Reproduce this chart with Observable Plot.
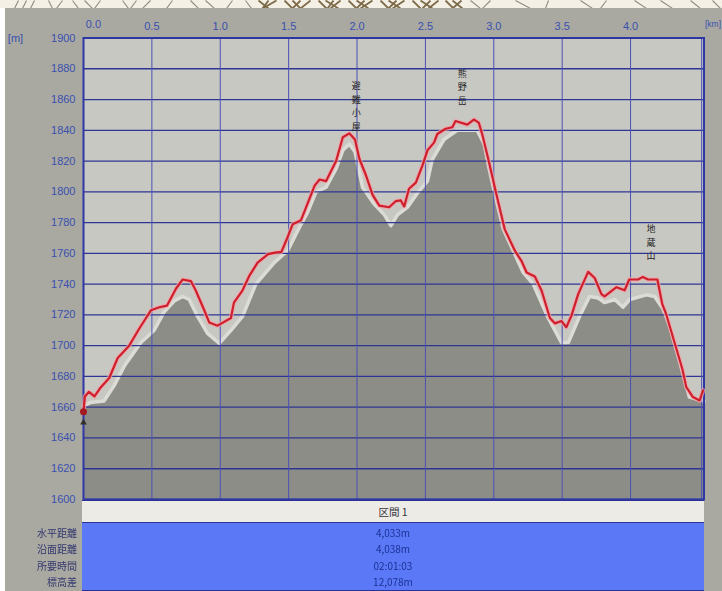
<!DOCTYPE html>
<html><head><meta charset="utf-8">
<script src="https://cdn.jsdelivr.net/npm/d3@7"></script>
<script src="https://cdn.jsdelivr.net/npm/@observablehq/plot@0.6"></script>
<style>
html,body{margin:0;padding:0;background:#fff;overflow:hidden}
#page{position:relative;width:722px;height:591px;font-family:"Noto Sans CJK JP","Liberation Sans",sans-serif;filter:blur(.45px)}
#panel{position:absolute;left:5px;top:8px;width:717px;height:583px;background:#a9a9a2}
#strip,#main{position:absolute;left:0}
#strip{top:0}#main{top:8px}
#strip svg,#main svg{display:block;background:transparent}
#section{position:absolute;left:82px;top:500px;width:622px;height:21px;line-height:21px;background:#ecebe6;border-top:1.5px solid #2c3290;border-bottom:1.5px solid #2c3290;text-align:center;font-size:10.5px;color:#33333a}
#stats{position:absolute;left:82px;top:523px;width:622px;height:67px;background:#5b78f6;border-bottom:1px solid #2c3290}
.val,.lab{position:absolute;font-size:10px;line-height:16px;height:16px;white-space:nowrap}
.val{left:82px;width:622px;text-align:center;color:#1c3296}
.lab{left:0;width:77px;text-align:right;color:#34386e}
</style></head>
<body>
<div id="page"><div id="panel"></div><div id="strip"></div><div id="main"></div>
<div id="section"></div><div id="stats"></div><div id="rows"></div></div>
<script>
// Distance (km) / elevation (m) of the red GPS track
const trackKm = [0,0.01,0.04,0.08,0.127,0.188,0.25,0.334,0.407,0.493,0.554,0.61,0.676,0.724,0.785,0.82,0.883,0.92,0.98,1.078,1.10,1.163,1.21,1.273,1.35,1.40,1.447,1.483,1.53,1.59,1.69,1.726,1.774,1.847,1.896,1.944,1.985,2.017,2.066,2.114,2.163,2.235,2.284,2.32,2.345,2.38,2.43,2.478,2.515,2.563,2.587,2.648,2.697,2.72,2.806,2.854,2.89,2.915,2.963,3.012,3.045,3.08,3.155,3.203,3.24,3.3,3.35,3.41,3.446,3.495,3.53,3.568,3.617,3.69,3.738,3.787,3.81,3.897,3.957,3.99,4.055,4.09,4.128,4.196,4.232,4.26,4.335,4.378,4.408,4.456,4.505,4.53];
const trackElev = [1657,1667,1670,1667,1673,1679,1692,1700,1711,1723,1725,1726,1737,1743,1742,1736,1723,1715,1713,1718,1728,1736,1745,1754,1759.5,1760.5,1761,1768.5,1779,1781.5,1804,1808,1807,1820,1835.5,1838,1834,1821.5,1810.6,1798,1791,1790,1794,1794.4,1790.5,1802,1806,1817,1827,1832,1837.6,1841,1842,1846,1843.7,1847,1845,1837.6,1820,1801,1788.6,1775.6,1761.6,1755,1747.6,1745,1735.7,1718,1714.5,1716,1712,1719.5,1733.5,1748,1744,1733.5,1732,1738,1736,1743,1743,1744.7,1743,1743,1727,1720.6,1698,1685,1673,1666.6,1664.4,1671];
// Distance (km) / elevation (m) of the grey terrain profile
const terrainKm = [0,0.05,0.15,0.224,0.3,0.42,0.517,0.59,0.663,0.724,0.773,0.834,0.907,0.993,1.078,1.163,1.26,1.395,1.495,1.568,1.64,1.70,1.774,1.847,1.896,1.944,1.985,2.04,2.126,2.2,2.248,2.296,2.369,2.44,2.515,2.55,2.636,2.733,2.878,2.93,2.963,3.012,3.07,3.215,3.288,3.398,3.495,3.545,3.63,3.70,3.763,3.81,3.885,3.945,3.994,4.116,4.176,4.237,4.286,4.347,4.395,4.43,4.537];
const terrainElev = [1661,1663,1664,1674,1687,1702,1710,1722,1729,1732,1730,1719,1708,1701.5,1710,1719,1740,1754,1762,1775,1787,1800,1803,1815,1827,1831,1826,1803,1792,1785,1778,1785,1790,1799,1807,1821,1834,1840,1840,1831,1816,1797,1775.6,1747.6,1740,1718,1702,1702,1719.5,1732,1731,1728,1730,1725,1730,1733,1732,1724,1713,1693.6,1678,1666.6,1664];
const xTicks = [0,0.5,1,1.5,2,2.5,3,3.5,4];
const yTicks = d3.range(1600,1901,20);
const xMax = 4.537;
const peakNames = ["避難小屋","熊野岳","地蔵山"];
const peakKm = [1.995,2.77,4.15];
const peakTop = [1873,1881,1780];
const sectionName = "区間 1";
const statLabels = ["水平距離","沿面距離","所要時間","標高差"];
const statValues = ["4,033m","4,038m","02:01:03","12,078m"];
// Contour fragments of the map strip above the chart
const contourTop = [18,26,34,48,62,72,84,100,122,136,150,172,190,205,232,245,258,268,276,284,292,300,310,318,325,333,340,348,356,364,372,380,388,396,404,412,420,430,438,445,452,461,470,490,515,548,580,606,634,660,690,712];
const contourBottom = [14,22,30,52,56,78,92,94,128,130,142,166,198,214,226,251,268,262,262,292,300,292,300,326,338,327,330,356,368,356,360,388,400,388,392,420,432,422,428,453,462,452,480,482,530,545,592,600,646,672,700,720];

const ink = "#3a50ae", hGrid = "#2f3592", vGrid = "#4a50b4";
const track = trackKm.map((x,i)=>({x,y:trackElev[i]}));
const terrain = terrainKm.map((x,i)=>({x,y:terrainElev[i]}));
const peaks = peakNames.map((n,i)=>({x:peakKm[i],y:peakTop[i],t:[...n].join("\n")}));

const strip = Plot.plot({width:722,height:8,margin:0,x:{domain:[0,722],axis:null},y:{domain:[0,8],axis:null},
  marks:[
    Plot.rect([0],{x1:0,x2:722,y1:0,y2:8,fill:"#f4f0e6"}),
    Plot.link(contourTop.map((a,i)=>({a,b:contourBottom[i]})),{x1:"a",x2:"b",y1:8,y2:0,stroke:d=>d.a>250&&d.a<470?"#7d6a48":"#8f8c80",strokeWidth:d=>d.a>250&&d.a<470?1.8:1.1})
  ]});
document.getElementById("strip").append(strip);

const main = Plot.plot({width:722,height:504,marginLeft:83,marginRight:18.5,marginTop:29.5,marginBottom:13,
  style:{fontFamily:'"Liberation Sans","Noto Sans CJK JP",sans-serif',background:"transparent"},
  x:{domain:[0,xMax]},y:{domain:[1600,1900]},
  marks:[
    Plot.frame({fill:"#c8c8c3",stroke:null}),
    Plot.areaY(terrain,{x:"x",y1:1600,y2:"y",fill:"#8d8d88"}),
    Plot.line(terrain,{x:"x",y:"y",stroke:"#dcdcd6",strokeWidth:3.5}),
    Plot.ruleY(yTicks,{stroke:hGrid,strokeWidth:1.3}),
    Plot.ruleX(xTicks,{stroke:vGrid,strokeWidth:1}),
    Plot.ruleX([4.52],{stroke:vGrid,strokeWidth:1}),
    Plot.frame({stroke:"#2f36a6",strokeWidth:2}),
    Plot.axisX({anchor:"top",ticks:xTicks.slice(1),tickSize:0,tickPadding:8,tickFormat:d3.format(".1f"),label:null,fill:ink,fontSize:11}),
    Plot.text(xTicks.slice(0,1),{x:d=>d,y:1900,dx:10,dy:-14,text:d3.format(".1f"),fill:ink,fontSize:11}),
    Plot.axisY({anchor:"left",ticks:yTicks,tickSize:0,tickPadding:8,tickFormat:d=>String(d),label:null,fill:ink,fontSize:11}),
    Plot.text(["[m]"],{x:0,y:1900,dx:-68,fill:ink,fontSize:11}),
    Plot.text(["[km]"],{x:xMax,y:1900,dx:1,dy:-14,textAnchor:"start",fill:ink,fontSize:8.5}),
    Plot.text(peaks,{x:"x",y:"y",text:"t",lineAnchor:"top",lineHeight:1.5,fontSize:9,fill:"#1f1f24",fontFamily:'"Noto Sans CJK JP"'}),
    Plot.line(track,{x:"x",y:"y",stroke:"#f3a3a8",strokeWidth:4.5,strokeOpacity:.7}),
    Plot.line(track,{x:"x",y:"y",stroke:"#cf1f2d",strokeWidth:2.2}),
    Plot.dot([{x:0,y:1650}],{x:"x",y:"y",symbol:"triangle",r:2.5,fill:"#33302c"}),
    Plot.dot([{x:0,y:1657}],{x:"x",y:"y",r:3.5,fill:"#a51a22"})
  ]});
document.getElementById("main").append(main);

document.getElementById("section").textContent = sectionName;
const rowTops = [525,541,558,574];
const rows = document.getElementById("rows");
statLabels.forEach((l,i)=>{
  const a=document.createElement("div");a.className="lab";a.style.top=rowTops[i]+"px";a.textContent=l;rows.append(a);
  const b=document.createElement("div");b.className="val";b.style.top=rowTops[i]+"px";b.textContent=statValues[i];rows.append(b);
});
</script>
</body></html>
